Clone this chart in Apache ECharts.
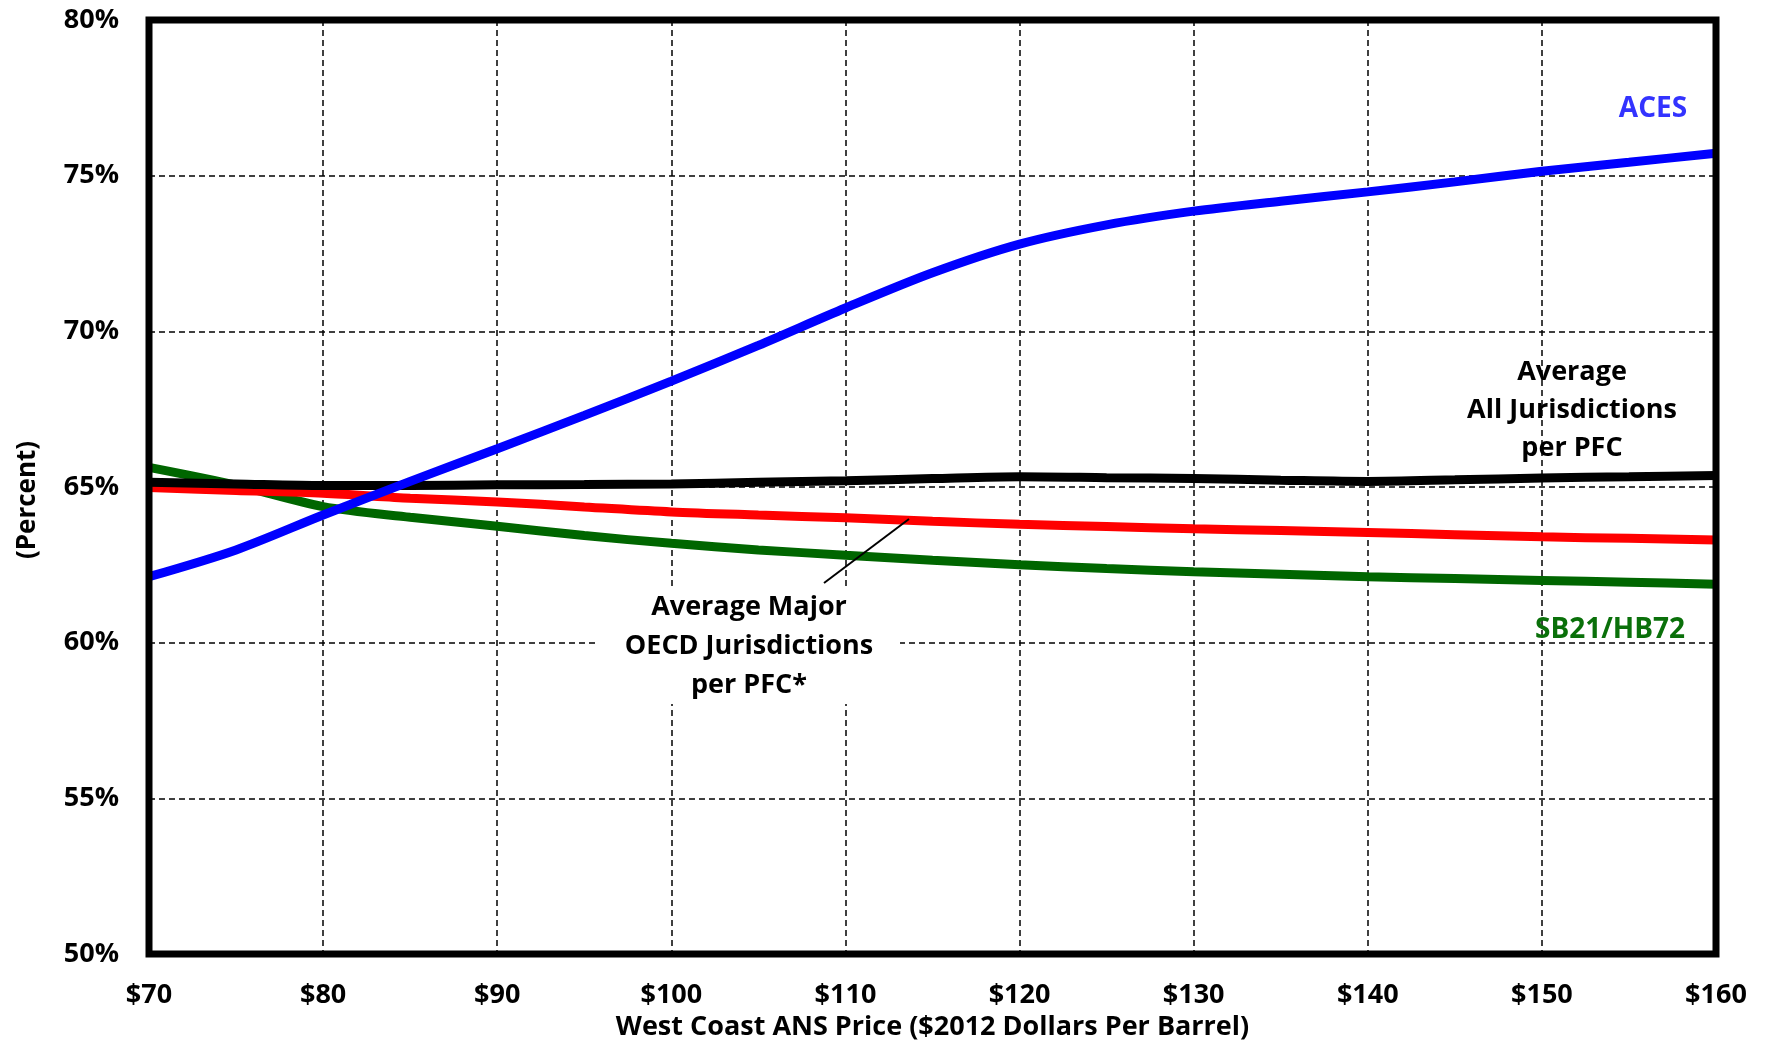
<!DOCTYPE html>
<html>
<head>
<meta charset="utf-8">
<script src="https://cdn.jsdelivr.net/npm/echarts@6/dist/echarts.min.js"></script>
<style>html,body{margin:0;padding:0;background:#fff;overflow:hidden;}#c{width:1767px;height:1047px;}</style>
</head>
<body>
<div id="c"></div>
<script>
var prices = [70,75,80,85,90,95,100,105,110,115,120,125,130,135,140,145,150,155,160];
var aces   = [62.12,62.98,64.10,65.18,66.23,67.30,68.40,69.55,70.75,71.88,72.80,73.42,73.86,74.18,74.48,74.80,75.14,75.43,75.72];
var avgAll = [65.15,65.10,65.05,65.05,65.07,65.08,65.10,65.15,65.20,65.27,65.33,65.30,65.27,65.22,65.18,65.23,65.29,65.33,65.37];
var avgOECD= [64.98,64.89,64.80,64.64,64.52,64.36,64.20,64.10,64.01,63.90,63.80,63.73,63.66,63.60,63.54,63.47,63.40,63.35,63.30];
var sb21   = [65.63,65.06,64.37,64.03,63.74,63.44,63.19,62.98,62.81,62.65,62.50,62.38,62.28,62.20,62.12,62.06,62.00,61.94,61.88];
var xTicks = [70,80,90,100,110,120,130,140,150,160];
var yTicks = [50,55,60,65,70,75,80];

function pairs(arr){ return prices.map(function(p,i){ return [p, arr[i]]; }); }

var FONT = '"Open Sans", sans-serif';
var chart = echarts.init(document.getElementById('c'));
chart.setOption({
  animation: false,
  backgroundColor: '#fff',
  grid: { left: 149, right: 51, top: 20, bottom: 93, show: true, borderColor: '#000', borderWidth: 7,
          backgroundColor: 'transparent', z: 3, containLabel: false, outerBoundsMode: 'none' },
  xAxis: {
    type: 'value', min: xTicks[0], max: xTicks[xTicks.length-1], interval: 10,
    name: 'West Coast ANS Price ($2012 Dollars Per Barrel)', nameLocation: 'middle', nameGap: 58,
    nameTextStyle: { fontFamily: FONT, fontWeight: 'bold', fontSize: 27, color: '#000' },
    axisLine: { show: false }, axisTick: { show: false },
    axisLabel: { formatter: function(v){ return '$' + v; }, fontFamily: FONT, fontWeight: 'bold', fontSize: 27, color: '#000', margin: 28 },
    splitLine: { show: true, lineStyle: { color: '#000', width: 1.5, type: [6,4] } }
  },
  yAxis: {
    type: 'value', min: yTicks[0], max: yTicks[yTicks.length-1], interval: 5,
    name: '(Percent)', nameLocation: 'middle', nameGap: 108, nameRotate: 90,
    nameTextStyle: { fontFamily: FONT, fontWeight: 'bold', fontSize: 26, color: '#000', padding: [0, 26, 0, 0] },
    axisLine: { show: false }, axisTick: { show: false },
    axisLabel: { formatter: function(v){ return v + '%'; }, fontFamily: FONT, fontWeight: 'bold', fontSize: 27, color: '#000', margin: 30 },
    splitLine: { show: true, lineStyle: { color: '#000', width: 1.5, type: [6,4] } }
  },
  series: [
    { name: 'SB21/HB72', type: 'line', data: pairs(sb21), smooth: 0.3, showSymbol: false, lineStyle: { color: '#006600', width: 9 }, z: 2 },
    { name: 'Average Major OECD', type: 'line', data: pairs(avgOECD), smooth: 0.3, showSymbol: false, lineStyle: { color: '#ff0000', width: 9 }, z: 2 },
    { name: 'Average All', type: 'line', data: pairs(avgAll), smooth: 0.3, showSymbol: false, lineStyle: { color: '#000000', width: 9 }, z: 2 },
    { name: 'ACES', type: 'line', data: pairs(aces), smooth: 0.3, showSymbol: false, lineStyle: { color: '#0000ff', width: 9 }, z: 2 }
  ],
  graphic: [
    { type: 'rect', z: 50, shape: { x: 598, y: 586, width: 302, height: 118 }, style: { fill: '#fff' } },
    { type: 'line', z: 60, shape: { x1: 824, y1: 583, x2: 909, y2: 519 }, style: { stroke: '#000', lineWidth: 2 } },
    { type: 'text', z: 60, x: 749, y: 588, style: { text: 'Average Major\nOECD Jurisdictions\nper PFC*', fontFamily: FONT, fontWeight: 'bold', fontSize: 27, lineHeight: 39, fill: '#000', align: 'center' } },
    { type: 'text', z: 60, x: 1572, y: 353, style: { text: 'Average\nAll Jurisdictions\nper PFC', fontFamily: FONT, fontWeight: 'bold', fontSize: 27, lineHeight: 38, fill: '#000', align: 'center' } },
    { type: 'text', z: 60, x: 1653, y: 95, style: { text: 'ACES', fontFamily: FONT, fontWeight: 'bold', fontSize: 28, fill: '#3333ff', align: 'center' } },
    { type: 'text', z: 60, x: 1610, y: 616, style: { text: 'SB21/HB72', fontFamily: FONT, fontWeight: 'bold', fontSize: 28, fill: '#0a700a', align: 'center' } }
  ]
});
</script>
</body>
</html>
